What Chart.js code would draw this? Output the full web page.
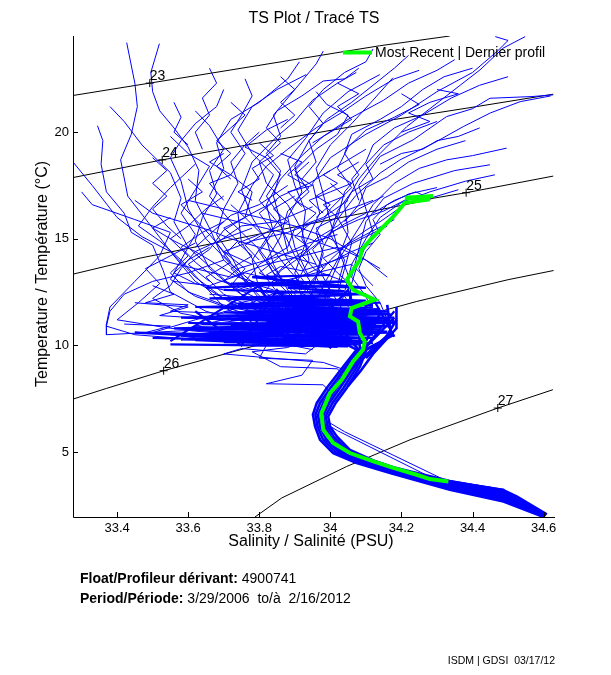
<!DOCTYPE html>
<html>
<head>
<meta charset="utf-8">
<script src="https://cdn.jsdelivr.net/npm/chart.js@4/dist/chart.umd.min.js"></script>
<style>
html,body{margin:0;padding:0;background:#fff;}
canvas{display:block;}
</style>
</head>
<body>
<canvas id="c" width="611" height="675"></canvas>
<script>
// ---------- axis ticks ----------
const xTickValues = [33.4, 33.6, 33.8, 34.0, 34.2, 34.4, 34.6];
const xTickLabels = ['33.4', '33.6', '33.8', '34', '34.2', '34.4', '34.6'];
const yTickValues = [5, 10, 15, 20];
const yTickLabels = ['5', '10', '15', '20'];

// ---------- density (sigma-t) contours ----------
const isopycnalLevels = ['23', '24', '25', '26', '27'];
const isopycnal23 = [[33.276,21.72],[33.492,22.30],[34.138,24.05],[34.336,24.51]];
const isopycnal24 = [[33.276,17.87],[33.527,18.70],[34.14,20.49],[34.393,21.15],[34.627,21.78]];
const isopycnal25 = [[33.276,13.34],[33.464,14.09],[34.252,16.74],[34.289,16.90],[34.382,17.16],[34.627,17.94]];
const isopycnal26 = [[33.276,7.48],[33.370,7.98],[33.531,8.81],[34.243,12.06],[34.50,13.08],[34.628,13.51]];
const isopycnal27 = [[33.788,1.95],[33.863,2.84],[34.046,4.32],[34.224,5.57],[34.471,7.06],[34.626,7.92]];
const isopycnalLabelPoints = [[33.492,22.30],[33.527,18.70],[34.382,17.16],[33.531,8.81],[34.471,7.06]];

// ---------- most recent profile (green) ----------
const recentProfile = [[34.289,17.01],[34.21,16.92],[34.28,16.85],[34.21,16.69],[34.177,16.04],[34.14,15.42],[34.112,14.95],[34.088,14.48],
  [34.083,14.01],[34.064,13.54],[34.046,13.07],[34.064,12.61],[34.125,12.14],[34.06,11.75],[34.055,11.36],[34.078,11.12],
  [34.083,10.58],[34.097,10.18],[34.092,9.80],[34.064,9.25],[34.032,8.39],[33.999,7.76],[33.975,6.83],[33.98,6.04],
  [34.008,5.42],[34.055,4.95],[34.121,4.56],[34.177,4.25],[34.243,3.93],[34.28,3.73],[34.332,3.62]];

// ---------- deep part of the older profiles (blue band) ----------
const deepProfiles = [
  [[33.98,10.6],[34.074,9.8],[34.036,9.0],[33.99,8.0],[33.962,7.3],[33.951,6.75],[33.957,6.2],[33.971,5.57],[34.008,4.95],[34.074,4.48],[34.168,4.01],[34.336,3.23],[34.487,2.68],[34.6,1.95]],
  [[34.02,11.0],[34.079,9.8],[34.044,9.0],[34.0,8.0],[33.971,7.3],[33.958,6.74],[33.964,6.2],[33.979,5.6],[34.016,4.98],[34.082,4.5],[34.17,4.05],[34.336,3.30],[34.487,2.77],[34.601,1.97]],
  [[34.08,11.2],[34.083,9.8],[34.052,9.0],[34.009,8.0],[33.98,7.3],[33.965,6.72],[33.971,6.2],[33.987,5.62],[34.024,5.0],[34.09,4.52],[34.171,4.1],[34.336,3.37],[34.487,2.86],[34.603,1.99]],
  [[34.14,11.5],[34.088,9.8],[34.06,9.0],[34.018,8.0],[33.989,7.3],[33.973,6.71],[33.978,6.2],[33.995,5.65],[34.032,5.02],[34.098,4.54],[34.173,4.15],[34.336,3.44],[34.487,2.95],[34.605,2.01]],
  [[34.18,11.3],[34.093,9.8],[34.067,9.0],[34.027,8.0],[33.997,7.3],[33.98,6.70],[33.985,6.2],[34.002,5.68],[34.039,5.05],[34.105,4.56],[34.174,4.19],[34.336,3.50],[34.487,3.04],[34.606,2.03]],
  [[34.18,10.5],[34.098,9.8],[34.075,9.0],[34.037,8.0],[34.006,7.3],[33.987,6.69],[33.992,6.2],[34.01,5.7],[34.047,5.08],[34.113,4.58],[34.176,4.24],[34.336,3.57],[34.487,3.13],[34.607,2.05]],
  [[34.15,10.2],[34.102,9.8],[34.083,9.0],[34.046,8.0],[34.015,7.3],[33.994,6.67],[33.999,6.2],[34.018,5.73],[34.055,5.1],[34.121,4.6],[34.177,4.28],[34.336,3.64],[34.43,3.35],[34.486,3.22],[34.524,2.92],[34.609,2.07]],
  [[34.186,11.8],[34.186,10.8],[34.12,9.6],[34.085,8.8],[34.05,8.1]],
  [[34.16,11.9],[34.17,10.6],[34.11,9.7],[34.07,9.0]],
  [[34.186,11.2],[34.15,10.2],[34.10,9.4]]
];
const deepStrayLines = [
  [[33.99,6.3],[34.02,6.0],[34.29,3.75],[34.45,3.35],[34.55,2.6]],
  [[33.995,6.4],[34.04,5.95],[34.32,3.7],[34.49,3.25]]
];

// ---------- dense core (blue) ----------
const coreProfiles = [
  [[33.55,10.05],[34.05,9.95],[33.62,10.25],[34.10,10.2],[33.58,10.45],[34.12,10.5]],
  [[33.66,10.6],[34.16,10.65],[33.70,10.8],[34.17,10.9],[33.64,11.0],[34.15,11.1]],
  [[33.72,11.2],[34.18,11.3],[33.68,11.4],[34.16,11.5],[33.76,11.6],[34.14,11.7]],
  [[33.74,11.8],[34.12,11.9],[33.80,12.0],[34.10,12.1],[33.78,12.25],[34.06,12.35]],
  [[33.84,12.45],[34.04,12.55],[33.88,12.7],[34.02,12.8]],
  [[33.50,10.35],[33.98,10.15],[33.45,10.6],[34.02,10.4],[33.60,10.75],[34.08,10.8]],
  [[33.60,11.05],[34.12,11.0],[33.65,11.25],[34.1,11.35],[33.70,11.55],[34.12,11.6]],
  [[33.70,11.75],[34.08,11.7],[33.74,11.95],[34.06,12.0],[33.82,12.2],[34.0,12.3]],
  [[33.78,10.0],[34.08,10.05],[33.70,10.15],[34.12,10.35],[33.66,10.55],[34.14,10.75],[33.72,10.95],[34.18,11.15],[33.74,11.35],[34.17,11.45]],
  [[33.80,10.1],[34.06,10.3],[33.76,10.45],[34.1,10.6],[33.80,10.7],[34.14,10.85],[33.82,11.1],[34.16,11.25],[33.84,11.5],[34.12,11.8]],
  [[33.70,12.6],[34.10,12.4],[33.66,12.2],[34.14,12.0],[33.62,11.8],[34.16,11.6],[33.58,11.3],[34.18,11.05],[33.56,10.8],[34.16,10.6],[33.60,10.3],[34.12,10.1]],
  [[33.55,10.2],[33.80,12.8],[33.90,10.0],[34.05,12.6],[34.10,9.95],[34.18,11.6]],
  [[33.62,11.6],[33.75,10.0],[33.85,12.6],[34.0,9.9],[34.12,12.2],[34.18,10.4]],
  [[33.65,12.7],[34.05,13.0],[33.72,12.9],[34.10,12.7],[33.78,13.2],[34.0,13.3]]
];

// ---------- upper part of the older profiles (blue) ----------
const upperProfiles = [
  [[33.427,24.2],[33.45,22.3],[33.457,21.2],[33.44,19.9],[33.41,18.7],[33.43,17.0],[33.50,15.5],[33.56,14.2],[33.62,13.0],[33.72,12.0],[33.82,11.3],[33.9,10.6]],
  [[33.519,24.15],[33.495,22.8],[33.50,21.9],[33.52,21.0],[33.56,20.2],[33.60,19.3],[33.63,18.2],[33.62,16.8],[33.66,15.5],[33.70,14.0],[33.78,12.8],[33.88,11.6],[33.95,10.8]],
  [[33.345,20.3],[33.36,19.6],[33.355,18.5],[33.37,17.2],[33.42,16.2],[33.44,15.3],[33.50,14.7],[33.53,13.5],[33.55,12.5],[33.65,11.6],[33.78,11.0],[33.92,10.5]],
  [[33.276,18.6],[33.33,17.5],[33.40,16.0],[33.47,15.1],[33.55,14.4],[33.62,13.2],[33.70,12.2],[33.82,11.5],[33.96,10.9]],
  [[33.30,17.2],[33.33,16.6],[33.45,15.9],[33.55,15.3],[33.52,14.2],[33.45,13.0],[33.38,11.8],[33.37,11.0],[33.37,10.5],[33.60,10.7],[33.85,10.3],[34.0,10.1]],
  [[33.38,21.2],[33.42,20.5],[33.47,19.4],[33.55,18.1],[33.58,16.9],[33.56,15.8],[33.60,14.6],[33.68,13.4],[33.75,12.4],[33.85,11.7],[33.98,11.0]],
  [[33.913,23.3],[33.88,22.5],[33.80,21.4],[33.72,20.6],[33.68,19.5],[33.70,18.3],[33.66,17.0],[33.72,15.8],[33.80,14.5],[33.86,13.2],[33.92,12.0],[34.0,11.0]],
  [[33.932,22.7],[33.85,22.0],[33.78,21.2],[33.74,20.1],[33.78,19.0],[33.84,18.0],[33.80,16.8],[33.86,15.6],[33.90,14.2],[33.95,12.8],[34.02,11.6],[34.06,10.8]],
  [[34.073,22.8],[34.02,22.3],[33.95,21.5],[33.90,20.5],[33.85,19.8],[33.78,18.6],[33.75,17.3],[33.78,16.0],[33.82,14.9],[33.88,13.6],[33.94,12.5],[33.98,11.4]],
  [[34.139,22.7],[34.05,21.9],[33.98,20.9],[33.93,19.7],[33.88,18.7],[33.90,17.5],[33.93,16.3],[33.92,15.0],[33.96,13.8],[34.00,12.6],[34.04,11.5]],
  [[34.176,22.55],[34.12,21.5],[34.06,20.4],[34.00,19.4],[33.96,18.3],[33.98,17.1],[34.00,15.8],[34.02,14.6],[34.05,13.3],[34.06,12.2],[34.08,11.3]],
  [[34.548,24.48],[34.486,23.94],[34.421,22.92],[34.318,21.59],[34.215,20.26],[34.14,19.0],[34.08,17.8],[34.04,16.6],[34.05,15.3],[34.02,14.0],[33.98,12.8],[33.95,11.7],[34.0,10.9]],
  [[34.464,24.48],[34.50,24.3],[34.47,23.8],[34.40,22.8],[34.30,21.9],[34.20,20.8],[34.10,19.9],[34.00,18.8],[33.95,17.6],[33.97,16.2],[33.93,14.8],[33.90,13.4],[33.92,12.2],[33.96,11.0]],
  [[34.627,21.75],[34.567,21.67],[34.449,21.59],[34.40,21.1],[34.327,20.73],[34.233,19.64],[34.14,18.86],[34.08,17.5],[34.10,16.4],[34.12,15.3],[34.08,14.0],[34.06,12.9],[34.05,11.8]],
  [[34.62,21.7],[34.534,21.43],[34.45,20.9],[34.374,20.26],[34.29,19.48],[34.196,18.7],[34.14,18.08],[34.07,17.0],[34.02,15.9],[33.98,14.6],[33.96,13.2],[33.94,12.0]],
  [[34.496,19.25],[34.40,18.9],[34.327,18.7],[34.25,18.3],[34.18,17.6],[34.12,16.6],[34.08,15.5],[34.03,14.2],[34.00,13.0],[33.98,11.8]],
  [[34.463,18.0],[34.38,17.7],[34.28,17.2],[34.2,16.7],[34.14,16.0],[34.10,15.0],[34.06,13.8],[34.04,12.5],[34.02,11.3]],
  [[34.449,18.47],[34.35,18.2],[34.233,17.6],[34.15,16.9],[34.10,15.8],[34.08,14.5],[34.06,13.2],[34.10,12.3],[34.12,11.5]],
  [[34.35,23.4],[34.30,22.9],[34.22,22.3],[34.15,21.5],[34.05,20.6],[33.98,19.8],[33.92,18.9],[33.86,17.8],[33.82,16.6],[33.84,15.3],[33.88,14.0],[33.93,12.9],[33.97,11.9]],
  [[34.25,22.9],[34.18,22.5],[34.10,21.7],[34.03,20.9],[33.96,20.2],[33.88,19.2],[33.82,18.4],[33.78,17.5],[33.74,16.2],[33.75,14.8],[33.80,13.6],[33.85,12.5],[33.90,11.4]],
  [[33.70,22.0],[33.68,21.2],[33.62,20.4],[33.58,19.6],[33.55,18.8],[33.58,17.7],[33.60,16.4],[33.65,15.0],[33.72,13.8],[33.80,12.7],[33.88,11.7]],
  [[33.62,21.0],[33.66,20.3],[33.70,19.2],[33.66,18.2],[33.68,17.1],[33.64,16.0],[33.62,14.9],[33.66,13.6],[33.74,12.5],[33.84,11.4]],
  [[33.80,20.0],[33.76,19.4],[33.72,18.6],[33.74,17.6],[33.70,16.4],[33.68,15.2],[33.72,14.2],[33.76,13.0],[33.82,12.0],[33.92,11.2]],
  [[33.55,19.8],[33.60,19.0],[33.66,18.4],[33.62,17.3],[33.58,16.2],[33.62,15.2],[33.58,14.0],[33.64,12.9],[33.70,11.8],[33.80,10.9]],
  [[34.30,17.4],[34.22,17.1],[34.16,16.6],[34.12,15.9],[34.14,15.2],[34.10,14.4],[34.08,13.6],[34.10,12.8],[34.14,12.0],[34.16,11.2]],
  [[34.20,16.5],[34.14,15.8],[34.10,15.4],[34.05,14.8],[34.00,14.0],[33.96,13.2],[33.92,12.4],[33.90,11.5],[33.94,10.6]],
  [[33.70,14.0],[33.60,13.4],[33.50,13.0],[33.42,12.4],[33.38,11.6],[33.37,10.9],[33.45,10.5],[33.60,10.3],[33.75,10.2],[33.90,10.0],[34.02,9.9]],
  [[33.62,14.8],[33.55,14.2],[33.48,13.6],[33.52,12.9],[33.46,12.0],[33.40,11.2],[33.55,10.8],[33.70,10.6],[33.88,10.4],[34.03,10.2]],
  [[33.78,15.5],[33.70,15.0],[33.62,14.4],[33.58,13.6],[33.55,12.8],[33.50,12.2],[33.58,11.5],[33.68,11.2],[33.82,10.9],[33.96,10.6]],
  [[33.90,11.0],[33.82,10.0],[33.80,9.4],[33.95,9.3],[33.92,8.6],[33.82,8.2],[33.98,8.15],[34.0,7.8]],
  [[33.98,10.6],[33.88,9.9],[33.78,9.7],[33.86,9.0],[34.02,8.9],[34.04,8.5]],
  [[34.0,10.5],[33.93,9.6],[33.75,9.85],[33.70,9.6],[33.80,9.45],[33.98,9.2],[34.05,8.8]],
  [[33.85,12.5],[33.75,11.8],[33.62,11.2],[33.50,10.6],[33.60,10.4],[33.80,10.3],[33.95,9.8]],
  [[33.96,21.9],[33.99,21.3],[34.05,20.8],[34.02,19.9],[33.96,19.2],[33.90,18.2],[33.94,17.2],[33.88,16.3],[33.86,15.1],[33.82,14.0],[33.86,12.8],[33.92,11.8]],
  [[34.20,21.8],[34.25,21.3],[34.18,20.7],[34.10,20.1],[34.05,19.3],[34.02,18.3],[34.06,17.4],[34.00,16.4],[33.96,15.3],[33.98,14.3],[33.96,13.2],[34.00,12.0]],
  [[34.30,20.5],[34.22,20.0],[34.15,19.4],[34.10,18.5],[34.12,17.8],[34.06,17.2],[34.02,16.3],[34.00,15.2],[34.04,14.0],[34.02,12.8],[34.06,11.8]],
  [[33.88,20.6],[33.82,20.1],[33.76,19.3],[33.82,18.8],[33.86,18.0],[33.82,17.0],[33.86,16.0],[33.82,15.0],[33.78,14.0],[33.80,12.6],[33.85,11.6]],
  [[33.76,22.5],[33.78,21.7],[33.75,20.8],[33.72,20.0],[33.76,19.0],[33.72,18.0],[33.78,17.2],[33.76,16.0],[33.82,15.0],[33.84,13.8],[33.88,12.6],[33.94,11.4]],
  [[34.08,23.0],[34.04,22.5],[33.98,22.4],[33.92,21.7],[33.85,21.0],[33.82,20.2],[33.86,19.5],[33.80,18.6],[33.82,17.6],[33.88,16.6],[33.92,15.4],[33.94,14.0],[33.90,12.8]],
  [[34.40,23.0],[34.32,22.6],[34.26,22.0],[34.20,21.2],[34.14,20.6],[34.06,19.9],[34.04,19.0],[34.08,18.0],[34.04,17.2],[34.02,16.0],[34.06,14.8],[34.04,13.6],[34.02,12.4]],
  [[33.95,16.5],[33.85,15.8],[33.75,15.6],[33.68,14.8],[33.72,13.9],[33.65,13.2],[33.70,12.4],[33.78,11.8],[33.90,11.2]],
  [[34.05,16.8],[33.98,16.0],[33.90,15.5],[33.88,14.6],[33.80,13.8],[33.76,13.0],[33.80,12.2],[33.95,11.6],[34.05,11.0]],
  [[33.88,17.5],[33.80,16.6],[33.72,16.1],[33.66,15.2],[33.70,14.4],[33.76,13.6],[33.72,12.8],[33.82,12.0],[33.98,11.4]],
  [[34.15,17.0],[34.08,16.4],[34.02,15.6],[33.96,15.0],[33.92,14.2],[33.86,13.5],[33.82,12.6],[33.90,11.9],[34.02,11.2]],
  [[33.70,17.0],[33.65,16.4],[33.60,15.6],[33.55,15.0],[33.60,14.2],[33.55,13.4],[33.60,12.5],[33.70,11.9],[33.84,11.3]],
  [[34.22,16.9],[34.15,16.3],[34.08,15.9],[34.00,15.3],[33.95,14.5],[33.98,13.6],[33.94,12.9],[34.00,12.2],[34.10,11.6]],
  [[33.62,18.5],[33.55,17.4],[33.50,16.5],[33.46,15.6],[33.52,14.9],[33.58,14.0],[33.55,13.1],[33.62,12.3],[33.74,11.6],[33.86,11.0]],
  [[34.00,18.2],[33.94,17.6],[33.86,17.0],[33.80,16.2],[33.84,15.3],[33.80,14.4],[33.84,13.4],[33.90,12.6],[34.00,11.8]],
  [[34.22,23.6],[34.18,23.0],[34.12,22.2],[34.06,21.4],[33.99,20.6],[33.94,19.6],[33.90,18.4],[33.92,17.2],[33.88,16.0],[33.90,14.6],[33.94,13.2]],
  [[33.98,23.8],[33.96,23.2],[33.92,22.4],[33.88,21.6],[33.84,20.8],[33.86,19.8],[33.82,19.0],[33.86,18.2],[33.84,17.0],[33.86,15.8],[33.88,14.4]],
  [[34.12,23.9],[34.10,23.3],[34.04,22.8],[33.98,22.0],[33.94,21.2],[33.98,20.4],[33.94,19.6],[33.96,18.6],[33.92,17.8]],
  [[34.50,22.6],[34.42,22.2],[34.34,21.6],[34.26,20.8],[34.18,20.2],[34.12,19.4],[34.10,18.6],[34.06,17.8],[34.08,16.8]],
  [[34.38,19.6],[34.30,19.2],[34.22,18.6],[34.16,17.9],[34.10,17.4],[34.08,16.6],[34.04,15.8]]
];

// ---------- extra short profile pieces in the crowded middle (blue) ----------
const meshProfiles = [
  [[33.92,14.5],[33.84,14.1],[33.74,13.6],[33.70,13.0],[33.78,12.6],[33.90,12.3]],
  [[34.02,15.2],[33.94,14.8],[33.86,14.2],[33.80,13.4],[33.86,12.9],[33.98,12.5]],
  [[33.70,15.8],[33.64,15.3],[33.58,14.6],[33.62,13.9],[33.68,13.1],[33.76,12.6]],
  [[34.10,16.2],[34.04,15.7],[33.98,15.0],[33.92,14.2],[33.96,13.5],[34.04,13.0],[34.08,12.5]],
  [[33.85,16.8],[33.78,16.2],[33.70,15.4],[33.66,14.5],[33.60,13.8],[33.66,13.0]],
  [[33.55,16.0],[33.50,15.5],[33.56,14.9],[33.62,14.4],[33.68,13.8],[33.74,13.2],[33.82,12.8]],
  [[34.12,14.8],[34.06,14.4],[34.00,13.9],[33.94,13.4],[33.88,13.0],[33.92,12.6]],
  [[33.95,15.8],[33.90,15.1],[33.94,14.6],[33.88,13.9],[33.84,13.2],[33.90,12.7]],
  [[33.80,15.2],[33.74,14.8],[33.78,14.2],[33.72,13.6],[33.76,13.0],[33.84,12.6]],
  [[34.05,14.2],[33.98,13.8],[33.92,13.5],[33.86,13.7],[33.82,13.3],[33.88,12.9]],
  [[33.66,14.6],[33.60,14.0],[33.56,13.4],[33.62,12.9],[33.70,12.6]],
  [[34.16,15.6],[34.10,15.1],[34.04,14.6],[33.98,14.1],[34.02,13.4],[34.06,12.8]],
  [[33.90,17.0],[33.84,16.4],[33.88,15.8],[33.82,15.3],[33.76,14.7],[33.80,14.0]],
  [[33.72,16.6],[33.76,16.0],[33.70,15.5],[33.74,14.9],[33.70,14.2],[33.74,13.5]],
  [[34.00,17.6],[34.04,17.0],[33.98,16.6],[34.02,16.0],[33.96,15.5],[33.98,14.8]],
  [[33.60,17.8],[33.64,17.2],[33.58,16.6],[33.62,15.9],[33.66,15.2],[33.62,14.6]],
  [[34.08,18.6],[34.02,18.0],[34.06,17.6],[34.00,17.2],[33.94,16.8],[33.98,16.2]],
  [[33.80,19.5],[33.84,18.9],[33.78,18.3],[33.80,17.8],[33.74,17.2],[33.78,16.8]],
  [[33.45,12.0],[33.60,11.8],[33.52,11.4],[33.70,11.2],[33.62,10.9],[33.80,10.7]],
  [[33.42,11.0],[33.55,10.9],[33.48,10.6],[33.65,10.5],[33.58,10.25],[33.78,10.2]],
  [[33.50,12.8],[33.56,12.4],[33.48,12.0],[33.60,11.9],[33.55,11.6],[33.70,11.5]],
  [[33.66,12.4],[33.80,12.2],[33.72,11.9],[33.86,11.8],[33.78,11.5],[33.94,11.4]],
  [[33.56,21.4],[33.58,20.7],[33.56,20.0],[33.60,19.4]],
  [[33.86,22.6],[33.90,22.0],[33.86,21.4],[33.90,20.8],[33.86,20.2]],
  [[34.02,22.3],[34.08,21.8],[34.02,21.2],[34.06,20.6],[34.00,20.0],[33.95,19.5]],
  [[34.30,22.0],[34.36,21.8],[34.28,21.4],[34.22,20.9],[34.28,20.5],[34.20,20.0]],
  [[34.42,20.2],[34.36,19.8],[34.30,19.6],[34.26,19.2],[34.20,19.0],[34.14,18.5]],
  [[34.36,17.3],[34.28,16.9],[34.24,17.2],[34.18,16.8],[34.12,16.2]],
  [[33.94,18.6],[33.90,18.0],[33.95,17.5],[33.88,17.2],[33.92,16.5]],
  [[33.70,19.0],[33.66,18.6],[33.72,18.0],[33.66,17.6],[33.70,16.8]],
  [[33.66,23.0],[33.68,22.3],[33.64,21.6],[33.66,20.8],[33.62,20.0],[33.64,19.2]],
  [[33.86,19.0],[33.92,18.6],[33.88,18.0],[33.94,17.4],[33.90,16.8],[33.96,16.2],[33.92,15.6]],
  [[33.72,21.4],[33.76,20.8],[33.72,20.2],[33.68,19.6],[33.72,19.0],[33.68,18.4],[33.72,17.8]],
  [[33.50,18.8],[33.54,18.2],[33.50,17.6],[33.54,17.0],[33.50,16.4],[33.54,15.6],[33.58,15.0]],
  [[34.10,19.2],[34.04,18.6],[33.98,18.0],[34.02,17.6],[33.96,17.0],[34.00,16.6],[33.96,16.0]],
  [[33.45,16.8],[33.50,16.2],[33.58,15.8],[33.66,15.4],[33.72,15.0],[33.80,14.6],[33.88,14.2],[33.96,13.8]],
  [[33.60,16.8],[33.70,16.4],[33.80,16.0],[33.90,15.6],[34.00,15.0],[34.08,14.2],[34.14,13.6]],
  [[33.52,14.0],[33.62,13.6],[33.72,13.2],[33.82,13.8],[33.92,14.2],[34.02,14.6],[34.10,14.0],[34.16,13.2]],
  [[33.56,13.0],[33.66,12.8],[33.76,13.4],[33.86,13.0],[33.96,13.4],[34.06,13.8],[34.12,12.8]],
  [[33.78,13.8],[33.70,14.4],[33.78,14.9],[33.88,15.3],[33.96,15.8],[34.04,16.3],[34.12,16.8]],
  [[33.64,16.2],[33.74,15.8],[33.84,15.4],[33.94,15.0],[34.02,14.5],[34.10,15.2],[34.18,15.9]]
];

// ---------- texts ----------
const titleText = 'TS Plot / Tracé TS';
const xAxisTitle = 'Salinity / Salinité (PSU)';
const yAxisTitle = 'Temperature / Température (°C)';
const legendText = 'Most Recent | Dernier profil';
const infoLines = [['Float/Profileur dérivant: ', '4900741'], ['Period/Période: ', '3/29/2006  to/à  2/16/2012']];
const creditText = 'ISDM | GDSI  03/17/12';

const BLUE = '#0000ff', GREEN = '#00ff00', FONT = '"Liberation Sans", Arial, sans-serif';
const toXY = pts => pts.map(p => ({x: p[0], y: p[1]}));

const datasets = [];
datasets.push({data: toXY(recentProfile), borderColor: GREEN, borderWidth: 4, order: 0});
upperProfiles.forEach(p => datasets.push({data: toXY(p), borderColor: BLUE, borderWidth: 1, order: 1}));
meshProfiles.forEach(p => datasets.push({data: toXY(p), borderColor: BLUE, borderWidth: 1, order: 1}));
coreProfiles.forEach(p => datasets.push({data: toXY(p), borderColor: BLUE, borderWidth: 2.2, order: 1}));
deepProfiles.forEach(p => datasets.push({data: toXY(p), borderColor: BLUE, borderWidth: 2.6, order: 1}));
deepStrayLines.forEach(p => datasets.push({data: toXY(p), borderColor: BLUE, borderWidth: 1, order: 1}));
[isopycnal23, isopycnal24, isopycnal25, isopycnal26, isopycnal27].forEach(p =>
  datasets.push({data: toXY(p), borderColor: '#000', borderWidth: 1, order: 2}));
datasets.push({data: toXY(isopycnalLabelPoints), showLine: false, pointStyle: 'cross', pointRadius: 4,
  borderColor: '#000', borderWidth: 1, order: 2});
datasets.forEach(d => { if (d.showLine === undefined) d.showLine = true; if (d.pointRadius === undefined) d.pointRadius = 0; d.tension = 0; d.fill = false; });

const decor = {
  id: 'decor',
  afterDraw(chart) {
    const ctx = chart.ctx, sx = chart.scales.x, sy = chart.scales.y, a = chart.chartArea;
    ctx.save();
    ctx.strokeStyle = '#000'; ctx.lineWidth = 1; ctx.fillStyle = '#000';
    ctx.beginPath();
    ctx.moveTo(a.left + 0.5, a.top); ctx.lineTo(a.left + 0.5, a.bottom + 0.5); ctx.lineTo(a.right, a.bottom + 0.5);
    xTickValues.forEach(v => { const px = Math.round(sx.getPixelForValue(v)) + 0.5; ctx.moveTo(px, a.bottom); ctx.lineTo(px, a.bottom - 5); });
    yTickValues.forEach(v => { const py = Math.round(sy.getPixelForValue(v)) + 0.5; ctx.moveTo(a.left, py); ctx.lineTo(a.left + 5, py); });
    ctx.stroke();
    ctx.font = '14px ' + FONT; ctx.textAlign = 'left'; ctx.textBaseline = 'alphabetic';
    isopycnalLabelPoints.forEach((p, i) => ctx.fillText(isopycnalLevels[i], sx.getPixelForValue(p[0]), sy.getPixelForValue(p[1]) - 3));
    ctx.font = '16px ' + FONT; ctx.textAlign = 'center'; ctx.textBaseline = 'middle';
    ctx.fillText(titleText, 314, 19);
    ctx.fillText(xAxisTitle, 311, 542);
    ctx.save(); ctx.translate(43, 274); ctx.rotate(-Math.PI / 2); ctx.fillText(yAxisTitle, 0, 0); ctx.restore();
    ctx.strokeStyle = GREEN; ctx.lineWidth = 4;
    ctx.beginPath(); ctx.moveTo(343, 52.5); ctx.lineTo(372, 52.5); ctx.stroke();
    ctx.font = '14px ' + FONT; ctx.textAlign = 'left'; ctx.textBaseline = 'middle';
    ctx.fillText(legendText, 375, 53);
    infoLines.forEach((l, i) => {
      const yy = 579 + i * 20;
      ctx.font = 'bold 14px ' + FONT; ctx.fillText(l[0], 80, yy);
      const w = ctx.measureText(l[0]).width;
      ctx.font = '14px ' + FONT; ctx.fillText(l[1], 80 + w, yy);
    });
    ctx.font = '10.5px ' + FONT; ctx.textAlign = 'right';
    ctx.fillText(creditText, 555, 661);
    ctx.restore();
  }
};

new Chart(document.getElementById('c'), {
  type: 'scatter',
  data: {datasets},
  options: {
    responsive: false, animation: false, devicePixelRatio: 1,
    layout: {padding: {top: 36, right: 56, bottom: 118, left: 0}},
    plugins: {legend: {display: false}, tooltip: {enabled: false}, title: {display: false}},
    events: [],
    scales: {
      x: {
        type: 'linear', position: 'bottom', min: 33.276, max: 34.632,
        grid: {display: false, drawTicks: false}, border: {display: false},
        afterBuildTicks: s => { s.ticks = xTickValues.map(v => ({value: v})); },
        afterFit: s => { s.height = 40; },
        ticks: {color: '#000', font: {family: FONT, size: 13}, padding: 4, maxRotation: 0, autoSkip: false,
          callback: v => xTickLabels[xTickValues.indexOf(v)]}
      },
      y: {
        type: 'linear', position: 'left', min: 1.95, max: 24.51,
        grid: {display: false, drawTicks: false}, border: {display: false},
        afterBuildTicks: s => { s.ticks = yTickValues.map(v => ({value: v})); },
        afterFit: s => { s.width = 73; },
        ticks: {color: '#000', font: {family: FONT, size: 13}, padding: 4, autoSkip: false,
          callback: v => yTickLabels[yTickValues.indexOf(v)]}
      }
    }
  },
  plugins: [decor]
});
</script>
</body>
</html>
